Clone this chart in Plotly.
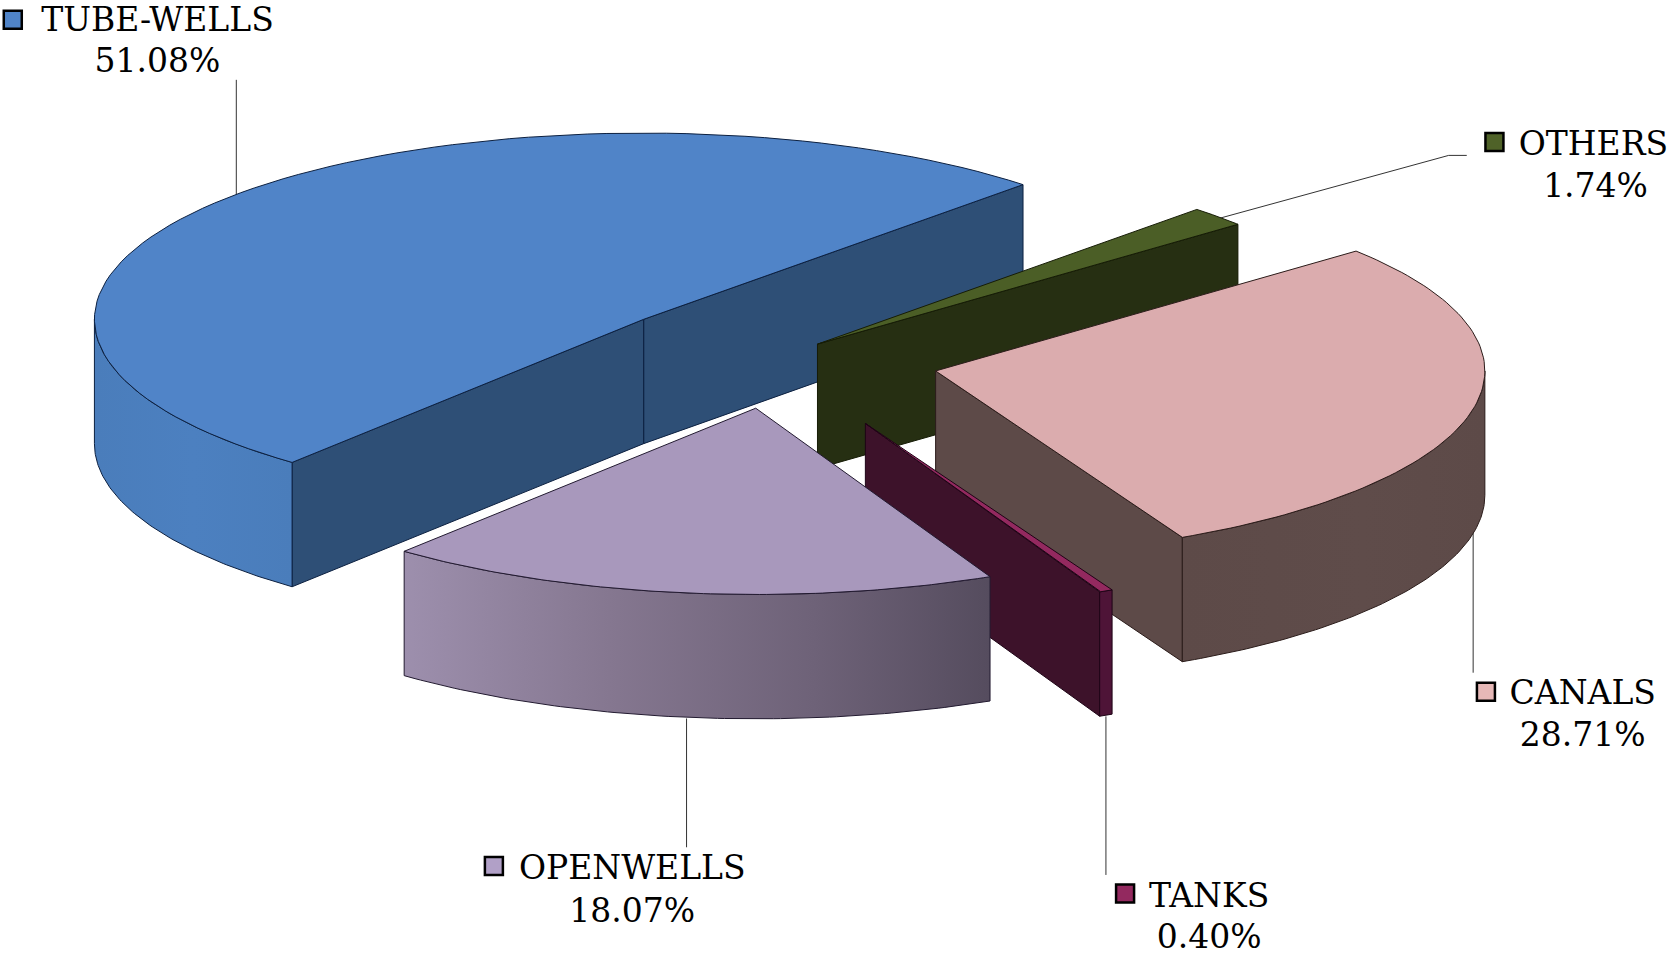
import numpy as np
import plotly.graph_objects as go

# ---- data ----
categories = ["TUBE-WELLS", "OTHERS", "CANALS", "TANKS", "OPENWELLS"]
shares = [51.08, 1.74, 28.71, 0.40, 18.07]

# ---- styles / layout (pixels of the 1669x955 page) ----
S = 1669 / 1568
W, H = 1669, 955
RX, RY, DEPTH = 516 * S, 175 * S, 116.8 * S
START_DEG = 230.2            # counter-clockwise edge of first slice
apex = {"TUBE-WELLS": (604.7, 300), "OTHERS": (768, 323.3), "CANALS": (879, 348.5),
        "TANKS": (813, 397.8), "OPENWELLS": (710, 383.5)}
top_col = {"TUBE-WELLS": "#5084C8", "OTHERS": "#4B5E26", "CANALS": "#DBACAE",
           "TANKS": "#93295F", "OPENWELLS": "#A898BC"}
wall_col = {"TUBE-WELLS": "#2E4F76", "OTHERS": "#262F12", "CANALS": "#5D4A48",
            "TANKS": "#3D122A", "OPENWELLS": "#585060"}
line_col = {"TUBE-WELLS": "#0C2040", "OTHERS": "#161C06", "CANALS": "#2B1C1A",
            "TANKS": "#1E0416", "OPENWELLS": "#221A30"}
outer_grad = {
    "TUBE-WELLS": [[0, "#4A7DBB"], [0.5, "#4C80C0"], [1, "#4A7DBB"]],
    "OTHERS": [[0, "#262F12"], [1, "#262F12"]],
    "CANALS": [[0, "#5D4A48"], [0.6, "#5F4C4A"], [1, "#5D4A48"]],
    "TANKS": [[0, "#4E1437"], [1, "#4E1437"]],
    "OPENWELLS": [[0, "#9D8FAD"], [0.35, "#857790"], [0.7, "#6E6278"], [1, "#554C5E"]],
}
key_col = {"TUBE-WELLS": "#5084C8", "OTHERS": "#4F6228", "CANALS": "#E6B8B7",
           "TANKS": "#93295F", "OPENWELLS": "#B1A0C7"}
label_pos = {  # key (x,y), name centre, pct centre
    "TUBE-WELLS": ((12, 18.5), (148, 21), (148, 59.5)),
    "OTHERS": ((1404, 133.5), (1497, 138), (1499, 177)),
    "CANALS": ((1396, 650), (1487, 654), (1487, 693)),
    "TANKS": ((1057, 839.5), (1136, 844), (1136, 883)),
    "OPENWELLS": ((464, 813.5), (594, 818), (594, 858)),
}
leaders = {
    "TUBE-WELLS": [(222, 75), (222, 183)],
    "OTHERS": [(1146, 205), (1361, 146), (1378, 146)],
    "CANALS": [(1384, 500), (1384, 632)],
    "TANKS": [(1039, 673), (1039, 822)],
    "OPENWELLS": [(645, 675), (645, 796)],
}
FONT = "DejaVu Serif"
FSIZE = 33


def arc(cx, cy, a0, a1, n=90, dy=0.0):
    t = np.radians(np.linspace(a0, a1, n))
    return cx + RX * np.cos(t), cy - RY * np.sin(t) + dy


def poly(x, y, color=None, grad=None, line="#000000"):
    kw = dict(fillgradient=dict(type="horizontal", colorscale=grad)) if grad else dict(fillcolor=color)
    return go.Scatter(x=list(x) + [x[0]], y=list(y) + [y[0]], mode="lines", fill="toself",
                      line=dict(color=line, width=1), hoverinfo="skip", showlegend=False, **kw)


fig = go.Figure()

# leader lines
for name in categories:
    pts = leaders[name]
    fig.add_trace(go.Scatter(x=[p[0] * S for p in pts], y=[p[1] * S for p in pts], mode="lines",
                             line=dict(color="#333333", width=1), hoverinfo="skip", showlegend=False))

# slices: angles come from the shares, clockwise from START_DEG
hi = START_DEG
edges = {}
for name, v in zip(categories, shares):
    lo = hi - v * 3.6
    edges[name] = (lo, hi)      # slice spans lo..hi (ccw)
    hi = lo

for name in categories:
    lo, hi = edges[name]
    cx, cy = apex[name][0] * S, apex[name][1] * S
    lc = line_col[name]
    # radial wall on the clockwise edge, then on the counter-clockwise edge
    for a, vis in ((lo, np.cos(np.radians(lo)) > 0), (hi, np.cos(np.radians(hi)) < 0)):
        if vis:
            ex, ey = arc(cx, cy, a, a, 1)
            fig.add_trace(poly([cx, ex[0], ex[0], cx], [cy, ey[0], ey[0] + DEPTH, cy + DEPTH],
                               color=wall_col[name], line=lc))
    # outer wall: the part of the rim facing the viewer
    for k in range(-1, 2):
        a0, a1 = max(lo, 180 + 360 * k), min(hi, 360 + 360 * k)
        if a1 > a0:
            ax, ay = arc(cx, cy, a0, a1)
            xs = np.concatenate([ax, ax[::-1]])
            ys = np.concatenate([ay, ay[::-1] + DEPTH])
            fig.add_trace(poly(xs, ys, grad=outer_grad[name], line=lc))
    # top face
    ax, ay = arc(cx, cy, lo, hi)
    fig.add_trace(poly(np.r_[cx, ax], np.r_[cy, ay], color=top_col[name], line=lc))

# labels
for name, v in zip(categories, shares):
    k, n, p = label_pos[name]
    fig.add_trace(go.Scatter(x=[k[0] * S], y=[k[1] * S], mode="markers", hoverinfo="skip", showlegend=False,
                             marker=dict(symbol="square", size=18, color=key_col[name],
                                         line=dict(color="#000000", width=2.5))))
    fig.add_trace(go.Scatter(x=[n[0] * S, p[0] * S], y=[n[1] * S, p[1] * S], mode="text",
                             text=[name, f"{v:.2f}%"], textposition="middle center", cliponaxis=False,
                             textfont=dict(family=FONT, size=FSIZE, color="#000000"),
                             hoverinfo="skip", showlegend=False))

fig.update_layout(width=W, height=H, margin=dict(l=0, r=0, t=0, b=0), showlegend=False,
                  paper_bgcolor="#FFFFFF", plot_bgcolor="#FFFFFF",
                  xaxis=dict(range=[0, W], visible=False, fixedrange=True),
                  yaxis=dict(range=[H, 0], visible=False, fixedrange=True))
fig.write_html("out.html", post_script="document.body.style.margin='0';document.body.style.overflow='hidden';",
               config={"displayModeBar": False})
